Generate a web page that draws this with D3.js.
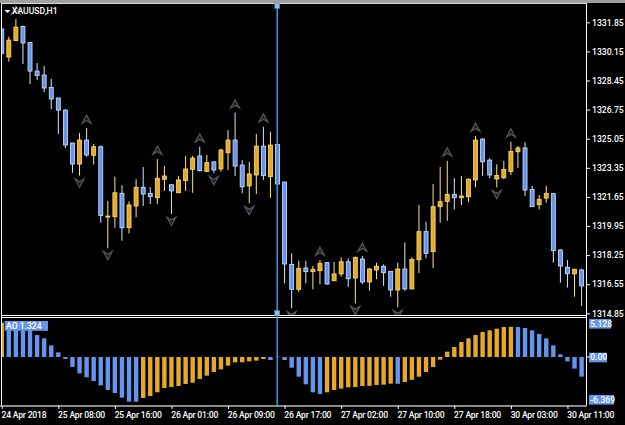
<!DOCTYPE html>
<html>
<head>
<meta charset="utf-8">
<style>
  html, body { margin: 0; padding: 0; background: #000; overflow: hidden; }
  text { font-family: Roboto, sans-serif; font-size: 8.6px; font-weight: 500; fill: #fff; }
</style>
<script src="https://cdnjs.cloudflare.com/ajax/libs/d3/7.8.5/d3.min.js"></script>
</head>
<body>
<svg id="chart" width="625" height="425"></svg>
<script>
// H1 candles, one row per bar, index = bar number
const opens = [1331.46,1329.82,1330.78,1331.60,1330.67,1329.00,1328.77,1328.04,1327.43,1326.72,
  1324.80,1323.57,1324.97,1324.08,1324.58,1320.48,1320.49,1321.86,1319.85,1321.12,
  1322.21,1321.86,1321.60,1322.68,1322.36,1321.89,1322.60,1323.26,1324.04,1323.14,
  1323.70,1323.28,1324.23,1324.97,1323.51,1322.29,1322.93,1324.62,1322.83,1324.72,
  1322.52,1317.71,1316.25,1317.50,1317.28,1317.34,1317.81,1316.75,1317.15,1317.86,
  1316.91,1318.02,1316.68,1317.38,1317.60,1317.30,1316.21,1317.44,1316.27,1317.98,
  1319.62,1318.45,1321.08,1321.39,1321.80,1321.60,1321.66,1322.64,1325.03,1323.80,
  1322.70,1322.77,1323.14,1324.29,1324.51,1322.09,1321.19,1321.58,1321.84,1318.55,
  1317.54,1317.15,1317.38];
const closes = [1330.03,1330.81,1331.57,1330.64,1329.00,1328.74,1328.01,1327.37,1326.72,1324.68,
  1323.57,1324.97,1324.10,1324.58,1320.57,1320.53,1321.89,1319.85,1321.18,1322.21,
  1321.82,1321.66,1322.74,1322.87,1322.00,1322.64,1323.28,1323.92,1323.18,1323.65,
  1323.22,1324.39,1324.97,1323.45,1322.24,1322.99,1324.62,1322.89,1324.68,1322.40,
  1317.73,1316.25,1317.48,1317.28,1317.42,1317.77,1316.56,1317.15,1317.86,1316.87,
  1318.12,1316.68,1317.44,1317.60,1317.22,1316.21,1317.44,1316.27,1318.00,1319.62,
  1318.35,1321.08,1321.37,1321.80,1321.60,1321.70,1322.68,1324.97,1323.70,1322.93,
  1322.91,1323.26,1324.31,1324.51,1322.05,1321.08,1321.51,1321.86,1318.51,1317.61,
  1317.16,1317.42,1316.45];
const highs = [1331.46,1331.01,1332.04,1331.66,1330.70,1329.47,1329.30,1328.54,1327.43,1326.78,
  1324.80,1325.38,1325.67,1324.74,1324.65,1321.41,1322.83,1322.33,1321.39,1322.68,
  1323.40,1322.21,1323.86,1323.45,1322.36,1322.87,1324.04,1324.04,1324.58,1324.10,
  1323.70,1324.46,1325.56,1326.57,1323.80,1323.70,1325.32,1325.75,1325.46,1325.60,
  1322.52,1318.35,1317.92,1317.92,1317.61,1317.96,1317.83,1317.86,1318.12,1318.06,
  1318.16,1318.20,1317.48,1317.81,1317.71,1317.32,1317.81,1318.99,1318.12,1321.18,
  1320.20,1322.40,1323.41,1323.76,1322.74,1322.87,1322.74,1325.21,1325.07,1323.90,
  1323.55,1323.75,1324.87,1324.62,1324.84,1322.29,1321.76,1322.29,1321.86,1318.59,
  1317.96,1317.46,1317.46];
const lows = [1330.00,1329.55,1330.78,1329.41,1328.24,1328.48,1327.78,1326.78,1325.32,1324.51,
  1323.06,1322.89,1324.00,1323.55,1320.14,1318.65,1319.85,1319.09,1319.52,1320.46,
  1321.12,1321.23,1321.23,1322.00,1320.65,1321.89,1322.00,1321.89,1323.14,1323.14,
  1323.03,1323.12,1323.22,1322.87,1321.86,1321.28,1321.82,1322.64,1321.60,1321.47,
  1316.60,1315.14,1316.11,1316.60,1316.25,1316.54,1316.52,1316.75,1316.99,1316.40,
  1315.43,1316.56,1316.17,1316.84,1316.45,1315.82,1315.20,1316.17,1316.27,1317.20,
  1318.06,1317.50,1320.14,1320.26,1320.92,1321.18,1321.33,1322.21,1322.87,1322.74,
  1322.21,1322.68,1322.93,1323.35,1321.70,1321.08,1320.92,1321.31,1317.81,1316.64,
  1316.35,1315.82,1315.28];

// Awesome Oscillator, same bars
const aoValues = [4.90,4.70,4.50,4.30,3.95,3.13,2.66,1.66,0.66,-0.28,
  -1.42,-2.33,-2.90,-3.42,-4.04,-4.70,-5.13,-5.79,-6.36,-6.369,
  -5.84,-5.56,-5.03,-4.42,-4.27,-4.13,-3.85,-3.66,-3.13,-2.66,
  -2.14,-1.76,-1.23,-0.76,-0.75,-0.62,-0.52,-0.28,-0.43,0.05,
  -0.43,-1.52,-2.80,-3.89,-5.03,-5.27,-5.03,-4.70,-4.51,-4.32,
  -4.27,-4.13,-4.12,-3.99,-3.94,-3.80,-3.82,-3.56,-3.25,-2.80,
  -2.14,-1.42,-0.38,0.76,1.42,2.14,2.66,3.13,3.56,3.80,
  4.04,4.27,4.30,4.27,4.13,3.80,3.28,2.66,1.66,0.38,
  -0.62,-1.66,-2.80];

// fractal marks, by bar number
const fractalsUp = [2,12,22,28,33,37,45,51,63,67,72];
const fractalsDown = [11,15,24,30,35,41,50,56,70];

const priceTicks = [1314.85,1316.55,1318.25,1319.95,1321.65,1323.35,1325.05,1326.75,1328.45,1330.15,1331.85];
const timeTicks = [0,8,16,24,32,40,48,56,64,72,80];
const timeLabels = ['24 Apr 2018','25 Apr 08:00','25 Apr 16:00','26 Apr 01:00','26 Apr 09:00','26 Apr 17:00','27 Apr 02:00','27 Apr 10:00','27 Apr 18:00','30 Apr 03:00','30 Apr 11:00'];
const aoLabels = ['5.128','0.00','-6.369'];
const symbol = 'XAUUSD,H1';
const aoTitle = 'AO 1.324';
const cursorBar = 39;

const blue = '#6495ed';
const orange = '#e6a827';
const blueEdge = '#d4e3ff';
const orangeEdge = '#ffe070';

const left = 2, right = 586, mainTop = 4, mainBottom = 315, aoTop = 318, aoBottom = 405;

// a bar step of 7 1/14 px makes the wicks drift across the pixel grid, as they do in the screenshot
const x = d3.scaleLinear().domain([0, 82]).range([1.75, 1.75 + 82 * (7 + 1 / 14)]);
const y = d3.scaleLinear().domain([1314.85, 1331.85]).range([313.3, 22.3]);
const yAO = d3.scaleLinear().domain([-6.369, 0]).range([401.7, 357]);

const svg = d3.select('#chart');

// window strip above the chart
svg.append('rect').attr('width', 625).attr('height', 3).attr('fill', '#a0a0a0');

svg.append('clipPath').attr('id', 'mainClip').append('rect')
  .attr('x', left).attr('y', mainTop).attr('width', right - left).attr('height', mainBottom - mainTop);
svg.append('clipPath').attr('id', 'aoClip').append('rect')
  .attr('x', left).attr('y', aoTop).attr('width', right - left).attr('height', aoBottom - aoTop);

const main = svg.append('g').attr('clip-path', 'url(#mainClip)');
const bars = d3.range(opens.length);

// wicks
main.selectAll('line.wick').data(bars).enter().append('line')
  .attr('class', 'wick')
  .attr('x1', d => x(d)).attr('x2', d => x(d))
  .attr('y1', d => y(highs[d])).attr('y2', d => y(lows[d]))
  .attr('stroke', d => closes[d] >= opens[d] ? '#ffe58a' : '#d8e6ff')
  .attr('stroke-width', 1);

// bodies
main.selectAll('rect.body').data(bars).enter().append('rect')
  .attr('class', 'body')
  .attr('x', d => x(d) - 2)
  .attr('width', 4)
  .attr('y', d => y(Math.max(opens[d], closes[d])))
  .attr('height', d => Math.max(1, Math.abs(y(opens[d]) - y(closes[d]))))
  .attr('fill', d => closes[d] >= opens[d] ? orange : blue)
  .attr('stroke', d => closes[d] >= opens[d] ? orangeEdge : blueEdge)
  .attr('stroke-width', 0.8);

// fractal arrowheads, apex away from the candle
const arrow = (g, data, base, offset, dir) => {
  g.selectAll(null).data(data).enter().append('path')
    .attr('transform', d => `translate(${x(d)},${y(base[d]) + offset}) scale(1,${dir})`)
    .attr('d', 'M0,-4.5 L4.5,3.8 L0,1 L-4.5,3.8 Z')
    .attr('fill', '#1c1e22')
    .attr('stroke', '#55585d')
    .attr('stroke-width', 1.2);
};
arrow(main, fractalsUp, highs, -8.5, 1);
arrow(main, fractalsDown, lows, 7, -1);

// AO histogram
const ao = svg.append('g').attr('clip-path', 'url(#aoClip)');
ao.selectAll('rect').data(bars).enter().append('rect')
  .attr('x', d => x(d) - 2.2)
  .attr('width', 4.4)
  .attr('y', d => yAO(Math.max(aoValues[d], 0)))
  .attr('height', d => Math.abs(yAO(aoValues[d]) - yAO(0)))
  .attr('fill', (d, i) => i === 0 || aoValues[d] >= aoValues[d - 1] ? orange : blue);

// frames
const frame = svg.append('g').attr('stroke', '#fff').attr('stroke-width', 1).attr('fill', 'none');
frame.append('path').attr('d', `M${left - 0.5},${mainTop - 0.5}V${aoBottom}`);
frame.append('path').attr('d', `M${right + 0.5},${mainTop - 0.5}V${aoBottom}`);
frame.append('path').attr('d', `M${left - 1},${mainTop - 0.5}H${right + 1}`).attr('stroke', '#d8d8d8');
frame.append('path').attr('d', `M${left},${mainBottom + 0.5}H${right}`);
frame.append('path').attr('d', `M${left},${aoTop - 0.5}H${right}`);
svg.append('rect').attr('x', 0).attr('y', aoBottom).attr('width', right + 1).attr('height', 2).attr('fill', '#8c8c8c');

// vertical cursor line with its two handles
const cursorX = x(cursorBar) - 0.3;
svg.append('line').attr('x1', cursorX).attr('x2', cursorX).attr('y1', 4).attr('y2', aoBottom)
  .attr('stroke', '#4a8fc4').attr('stroke-width', 1.6);
[6, 313].forEach(cy => {
  svg.append('rect').attr('x', cursorX - 2.5).attr('y', cy - 2.5).attr('width', 5).attr('height', 5)
    .attr('fill', '#8cc0ee').attr('stroke', '#4682b4').attr('stroke-width', 0.5);
});

// price axis
const priceAxis = d3.axisRight(y)
  .tickValues(priceTicks)
  .tickFormat(d3.format('.2f'))
  .tickSize(3).tickPadding(2);
const priceG = svg.append('g').attr('transform', `translate(${right + 1},0)`).call(priceAxis);
priceG.select('.domain').remove();
priceG.selectAll('.tick line').attr('stroke', '#fff');

// time axis
const timeAxis = d3.axisBottom(x)
  .tickValues(timeTicks)
  .tickFormat((d, i) => timeLabels[i])
  .tickSize(3).tickPadding(3);
const timeG = svg.append('g').attr('transform', `translate(0,${aoBottom + 1})`).call(timeAxis);
timeG.select('.domain').remove();
timeG.selectAll('.tick line').attr('stroke', '#fff');
timeG.selectAll('.tick text')
  .attr('text-anchor', 'start').attr('x', -0.75)
  .style('letter-spacing', '-0.2px');

// AO labels on the right
const badge = (bx, by, w, h, label, anchor) => {
  svg.append('rect').attr('x', bx).attr('y', by).attr('width', w).attr('height', h).attr('fill', blue);
  svg.append('text').attr('x', bx + anchor).attr('y', by + h / 2).attr('dy', '0.34em').text(label);
};
const badgeTops = [319, 352.7, 395];
const badgeWidths = [22, 18, 25];
aoLabels.forEach((t, i) => badge(589, badgeTops[i], badgeWidths[i], 9.6, t, 1.2));
svg.append('line').attr('x1', right + 1).attr('x2', right + 3.5).attr('y1', yAO(0)).attr('y2', yAO(0)).attr('stroke', '#fff');

badge(4.7, 321, 43.3, 9.8, aoTitle, 1.3);

// symbol title
svg.append('path').attr('d', 'M4.5,10 L10.5,10 L7.5,13 Z').attr('fill', '#fff');
svg.append('text').attr('x', 12).attr('y', 11).attr('dy', '0.35em').text(symbol);
</script>
</body>
</html>
